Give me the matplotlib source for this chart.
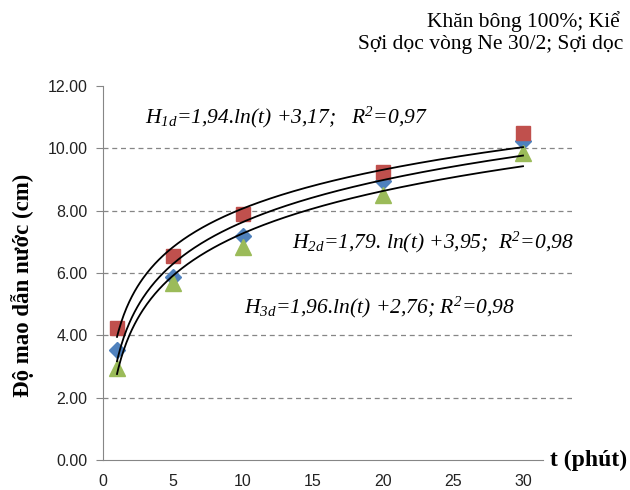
import numpy as np
import matplotlib
matplotlib.use("Agg")
import matplotlib.pyplot as plt

# ---- data ----
t = [1, 5, 10, 20, 30]
h1 = [4.22, 6.54, 7.90, 9.23, 10.48]   # red squares
h2 = [3.53, 5.87, 7.20, 8.95, 10.25]   # blue diamonds
h3 = [2.95, 5.67, 6.84, 8.50, 9.84]    # green triangles

# fitted log curves given on the chart: a*ln(t)+b
fit_a = [1.79, 1.94, 1.96]
fit_b = [3.95, 3.17, 2.76]

eq_texts = [
    r"$\mathit{H}_{\mathit{1d}}$=1,94.ln(t) +3,17;   R$^{2}$=0,97",
    r"$\mathit{H}_{\mathit{2d}}$=1,79. ln(t) +3,95;  R$^{2}$=0,98",
    r"$\mathit{H}_{\mathit{3d}}$=1,96.ln(t) +2,76; R$^{2}$=0,98",
]
title_lines = ["Khăn bông 100%; Kiể", "Sợi dọc vòng Ne 30/2; Sợi dọc"]
y_ticks = [0, 2, 4, 6, 8, 10, 12]
x_ticks = [0, 5, 10, 15, 20, 25, 30]

plt.rcParams['mathtext.fontset'] = 'custom'
plt.rcParams['mathtext.it'] = 'Liberation Serif:italic'
plt.rcParams['mathtext.rm'] = 'Liberation Serif:italic'

fig = plt.figure(figsize=(6.3, 4.9), dpi=100)
ax = fig.add_axes([103/630, 1-460/490, (572-103)/630, (460-86)/490])

ax.set_xlim(0, 33.5)
ax.set_ylim(0, 12)

ax.plot(t, h2, linestyle='none', marker='D', markersize=8.5, color='#4F81BD', zorder=3)
ax.plot(t, h1, linestyle='none', marker='s', markersize=10.5, color='#C0504D', zorder=3)
ax.plot(t, h3, linestyle='none', marker='^', markersize=11, color='#9BBB59', zorder=3)

tt = np.linspace(1, 30, 300)
for a, b in zip(fit_a, fit_b):
    ax.plot(tt, a*np.log(tt)+b, color='black', linewidth=1.3, zorder=4)

ax.set_yticks(y_ticks)
ax.set_yticklabels([f"{v:.2f}" for v in y_ticks])
ax.set_xticks(x_ticks)
ax.set_xticklabels([str(v) for v in x_ticks])
for lab in ax.get_xticklabels() + ax.get_yticklabels():
    lab.set_fontfamily('Liberation Sans')
    lab.set_fontsize(11.5)
    lab.set_color('#222222')

ax.tick_params(axis='y', direction='out', length=5, color='#868686', pad=6)
ax.tick_params(axis='x', length=0, pad=10)

for y in y_ticks[1:-1]:
    ax.axhline(y, color='#868686', linestyle=(0, (4, 3)), linewidth=0.9, zorder=1)

ax.spines['top'].set_visible(False)
ax.spines['right'].set_visible(False)
ax.spines['left'].set_color('#868686')
ax.spines['bottom'].set_color('#868686')
ax.spines['bottom'].set_bounds(0, 31.4)

fig.text(23/630, 1-285/490, "Độ mao dẫn nước (cm)", fontfamily='Liberation Serif', fontweight='bold',
         fontsize=16.5, rotation=90, ha='center', va='center')
fig.text(550/630, 1-460/490, "t (phút)", fontfamily='Liberation Serif', fontweight='bold',
         fontsize=17, ha='left', va='center')

eq_pos = [(3.0, 10.8), (13.5, 6.8), (10.1, 4.71)]
for (x, y), s in zip(eq_pos, eq_texts):
    ax.text(x, y, s, fontfamily='Liberation Serif', fontstyle='italic', fontsize=15.5,
            ha='left', va='baseline', zorder=5)

fig.text(427/630, 1-27/490, title_lines[0], fontfamily='Liberation Serif',
         fontsize=15.5, ha='left', va='baseline')
fig.text(358/630, 1-49/490, title_lines[1], fontfamily='Liberation Serif',
         fontsize=15.5, ha='left', va='baseline')

fig.savefig("out.png", dpi=100)
